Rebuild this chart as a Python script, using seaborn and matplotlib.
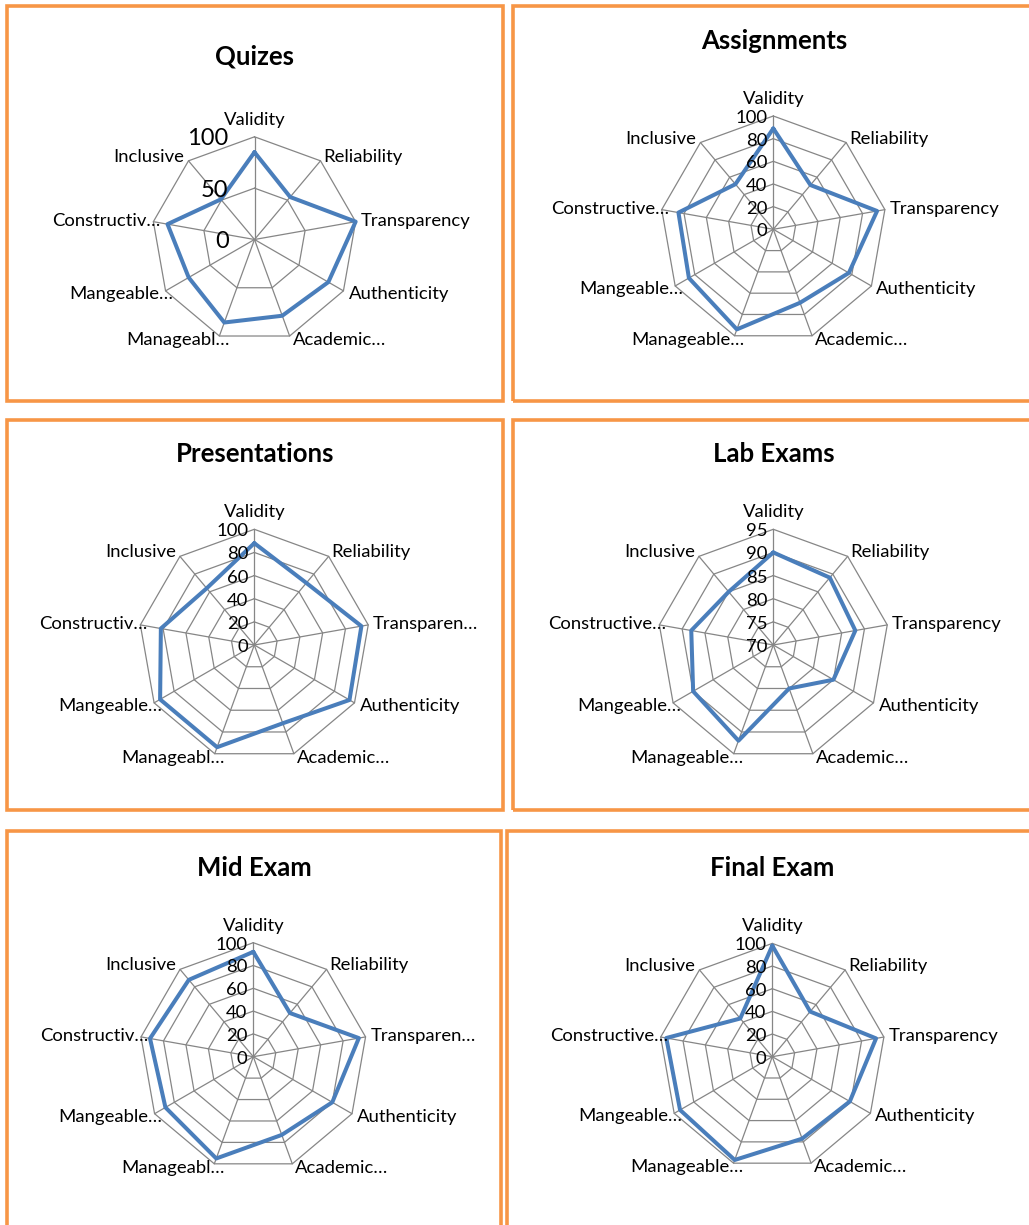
import numpy as np
import pandas as pd
import matplotlib
matplotlib.use("Agg")
import matplotlib.pyplot as plt
import matplotlib.transforms as mtransforms
from matplotlib.patches import Rectangle
import seaborn as sns

# ---------------- data ----------------
criteria = ["Validity", "Reliability", "Transparency", "Authenticity", "Academic",
            "Manageable", "Mangeable", "Constructive", "Inclusive"]

quizes = [85, 54, 100, 83, 79, 86, 74, 86, 51]
assignments = [89, 51, 93, 77, 69, 94, 86, 85, 52]
presentations = [88, 70, 94, 95, 72, 94, 94, 82, 64]
lab_exams = [90, 89, 88, 85, 80, 92, 90, 88, 85]
mid_exam = [92, 50, 94, 80, 73, 95, 89, 92, 88]
final_exam = [98, 52, 93, 79, 77, 97, 94, 95, 44]

titles = ["Quizes", "Assignments", "Presentations", "Lab Exams", "Mid Exam", "Final Exam"]

labels_a = ["Validity", "Reliability", "Transparency", "Authenticity", "Academic\u2026",
            "Manageabl\u2026", "Mangeable\u2026", "Constructiv\u2026", "Inclusive"]
labels_b = ["Validity", "Reliability", "Transparency", "Authenticity", "Academic\u2026",
            "Manageable\u2026", "Mangeable\u2026", "Constructive\u2026", "Inclusive"]
labels_c = ["Validity", "Reliability", "Transparen\u2026", "Authenticity", "Academic\u2026",
            "Manageabl\u2026", "Mangeable\u2026", "Constructiv\u2026", "Inclusive"]

ticks_q = [0, 50, 100]
ticks_100 = [0, 20, 40, 60, 80, 100]
ticks_lab = [70, 75, 80, 85, 90, 95]

# ---------------- style ----------------
sns.set_theme(style="white")
plt.rcParams["font.family"] = ["Lato", "DejaVu Sans"]

W, H = 1029, 1225
fig = plt.figure(figsize=(W / 100, H / 100), dpi=100)
fig.patch.set_facecolor("white")

ORANGE = "#F79646"
GRID = "#868686"
BLUE = "#4A7EBB"

def fx(x):
    return x / W

def fy(y):
    return 1 - y / H

# panel borders (pixel coords)
borders = [(7, 5.5, 502.5, 401), (512.5, 5.5, 1040, 401),
           (7, 420, 502.5, 810), (512.5, 420, 1040, 810),
           (7, 831, 500.5, 1240), (506.5, 831, 1040, 1240)]
for x0, y0, x1, y1 in borders:
    fig.patches.append(Rectangle((fx(x0), fy(y1)), fx(x1) - fx(x0), fy(y0) - fy(y1),
                                 transform=fig.transFigure, fill=False,
                                 edgecolor=ORANGE, linewidth=2.6, zorder=10))

panels = [
    dict(title="Quizes", vals=quizes, labels=labels_a, ticks=ticks_q, c=(254.5, 239.5), R=102.7,
         tpos=(255, 57), tick_fs=17, tick_dx=-26),
    dict(title="Assignments", vals=assignments, labels=labels_b, ticks=ticks_100, c=(773.3, 229.3), R=113.3,
         tpos=(774, 41), tick_fs=13.3, tick_dx=-6),
    dict(title="Presentations", vals=presentations, labels=labels_c, ticks=ticks_100, c=(254.3, 645), R=115.7,
         tpos=(255, 454), tick_fs=13.3, tick_dx=-6),
    dict(title="Lab Exams", vals=lab_exams, labels=labels_b, ticks=ticks_lab, c=(773.3, 645), R=115.7,
         tpos=(774, 454), tick_fs=13.3, tick_dx=-6),
    dict(title="Mid Exam", vals=mid_exam, labels=labels_c, ticks=ticks_100, c=(253.3, 1056.7), R=114,
         tpos=(254, 868), tick_fs=13.3, tick_dx=-6),
    dict(title="Final Exam", vals=final_exam, labels=labels_b, ticks=ticks_100, c=(772.3, 1056.7), R=113.3,
         tpos=(772, 868), tick_fs=13.3, tick_dx=-6),
]

n = len(criteria)
theta = np.linspace(0, 2 * np.pi, n, endpoint=False)
theta_closed = np.append(theta, 2 * np.pi)

# label placement: (ha, va, dx_px, dy_px)
label_place = [("center", "bottom", 0, 9),
               ("left", "center", 3, 4),
               ("left", "center", 5, 1),
               ("left", "center", 5, -3),
               ("left", "center", 3, -4),
               ("right", "center", 10, -4),
               ("right", "center", 8, -3),
               ("right", "center", 7, 1),
               ("right", "center", -4, 4)]

LABEL_FS = 13.3

for p in panels:
    cx, cy = p["c"]
    R = p["R"]
    ax = fig.add_axes([fx(cx - R), fy(cy + R), 2 * R / W, 2 * R / H], projection="polar")
    ax.set_theta_offset(np.pi / 2)
    ax.set_theta_direction(-1)
    rmin, rmax = p["ticks"][0], p["ticks"][-1]
    ax.set_ylim(rmin, rmax)
    ax.grid(False)
    ax.set_xticks([])
    ax.set_yticks([])
    ax.spines["polar"].set_visible(False)
    ax.patch.set_alpha(0)

    # polygon rings
    for t in p["ticks"][1:]:
        ax.plot(theta_closed, [t] * (n + 1), color=GRID, lw=0.9, clip_on=False, zorder=1)
    # spokes
    for th in theta:
        ax.plot([th, th], [rmin, rmax], color=GRID, lw=0.9, clip_on=False, zorder=1)

    # data line
    df = pd.DataFrame({"theta": theta_closed, "value": list(p["vals"]) + [p["vals"][0]]})
    sns.lineplot(data=df, x="theta", y="value", sort=False, estimator=None, ax=ax,
                 color=BLUE, lw=2.9, clip_on=False, zorder=3)
    ax.set_xlabel("")
    ax.set_ylabel("")
    ax.set_xticks([])
    ax.set_yticks([])

    # category labels
    for i, (th, lab) in enumerate(zip(theta, p["labels"])):
        ha, va, dx, dy = label_place[i]
        tr = mtransforms.offset_copy(ax.transData, fig=fig, x=dx * 0.72, y=dy * 0.72, units="points")
        ax.text(th, rmax, lab, transform=tr, ha=ha, va=va, fontsize=LABEL_FS, color="black",
                clip_on=False)

    # radial tick labels
    trt = mtransforms.offset_copy(ax.transData, fig=fig, x=p["tick_dx"] * 0.72, y=-2 * 0.72, units="points")
    for t in p["ticks"]:
        ax.text(0, t, str(t), transform=trt, ha="right", va="center", fontsize=p["tick_fs"],
                color="black", clip_on=False)

    fig.text(fx(p["tpos"][0]), fy(p["tpos"][1]), p["title"], ha="center", va="center",
             fontsize=18.5, fontweight="bold", color="black")

fig.savefig("out.png", dpi=100, facecolor="white")
